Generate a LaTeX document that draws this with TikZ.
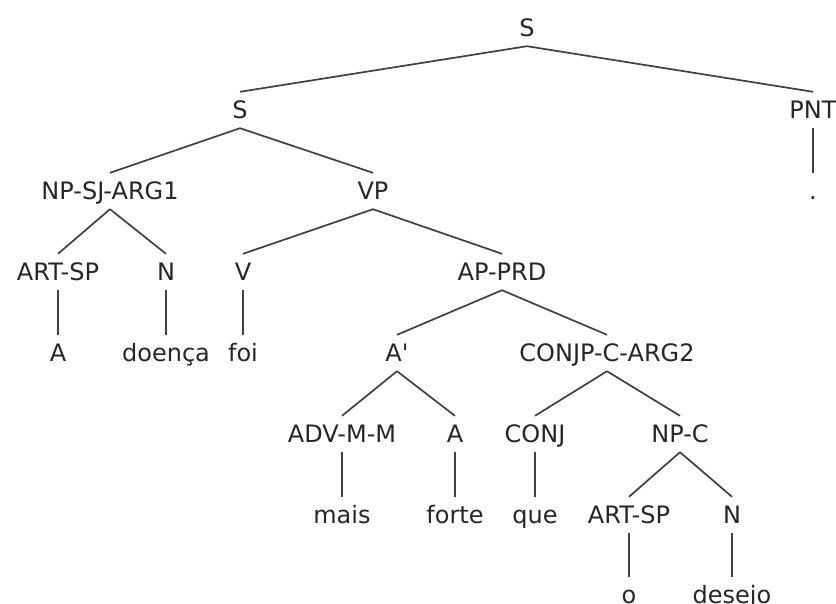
\documentclass[tikz,border=0pt]{standalone}
\usepackage{fontspec}
\setmainfont{DejaVu Sans}
\begin{document}
\begin{tikzpicture}[x=1pt,y=-1pt,
  lbl/.style={anchor=base, text height=18pt, text depth=2pt, inner ysep=8pt,
    inner xsep=0pt, text=black!85, font=\fontsize{24}{28}\selectfont},
  edge/.style={draw=black!75, line width=1.7pt}]
\useasboundingbox (0,0) rectangle (836,603);
\clip (0,0) rectangle (836,603);
% categories and words, placed on their baselines
\node[lbl] (s0)    at (527,36)  {S};
\node[lbl] (s1)    at (240,118) {S};
\node[lbl] (pnt)   at (813,118) {PNT};
\node[lbl] (dot)   at (813,199) {.};
\node[lbl] (npsj)  at (110,199) {NP-SJ-ARG1};
\node[lbl] (vp)    at (373,199) {VP};
\node[lbl] (art1)  at (58,280)  {ART-SP};
\node[lbl] (n1)    at (166,280) {N};
\node[lbl] (v)     at (243,280) {V};
\node[lbl] (ap)    at (502,280) {AP-PRD};
\node[lbl] (wa)    at (58,361)  {A};
\node[lbl] (wdoe)  at (166,361) {doença};
\node[lbl] (wfoi)  at (243,361) {foi};
\node[lbl] (abar)  at (397,361) {A\textquotesingle};
\node[lbl] (conjp) at (607,361) {CONJP-C-ARG2};
\node[lbl] (adv)   at (342,442) {ADV-M-M};
\node[lbl] (adj)   at (455,442) {A};
\node[lbl] (conj)  at (535,442) {CONJ};
\node[lbl] (npc)   at (680,442) {NP-C};
\node[lbl] (wmais) at (342,523) {mais};
\node[lbl] (wfor)  at (455,523) {forte};
\node[lbl] (wque)  at (535,523) {que};
\node[lbl] (art2)  at (629,523) {ART-SP};
\node[lbl] (n2)    at (732,523) {N};
\node[lbl] (wo)    at (629,603) {o};
\node[lbl] (wdes)  at (732,603) {desejo};
% branches
\foreach \p/\c in {s0/s1, s0/pnt, pnt/dot, s1/npsj, s1/vp,
    npsj/art1, npsj/n1, vp/v, vp/ap, art1/wa, n1/wdoe, v/wfoi,
    ap/abar, ap/conjp, abar/adv, abar/adj, conjp/conj, conjp/npc,
    adv/wmais, adj/wfor, conj/wque, npc/art2, npc/n2, art2/wo, n2/wdes}
  \draw[edge] (\p.south) -- (\c.north);
\end{tikzpicture}
\end{document}
